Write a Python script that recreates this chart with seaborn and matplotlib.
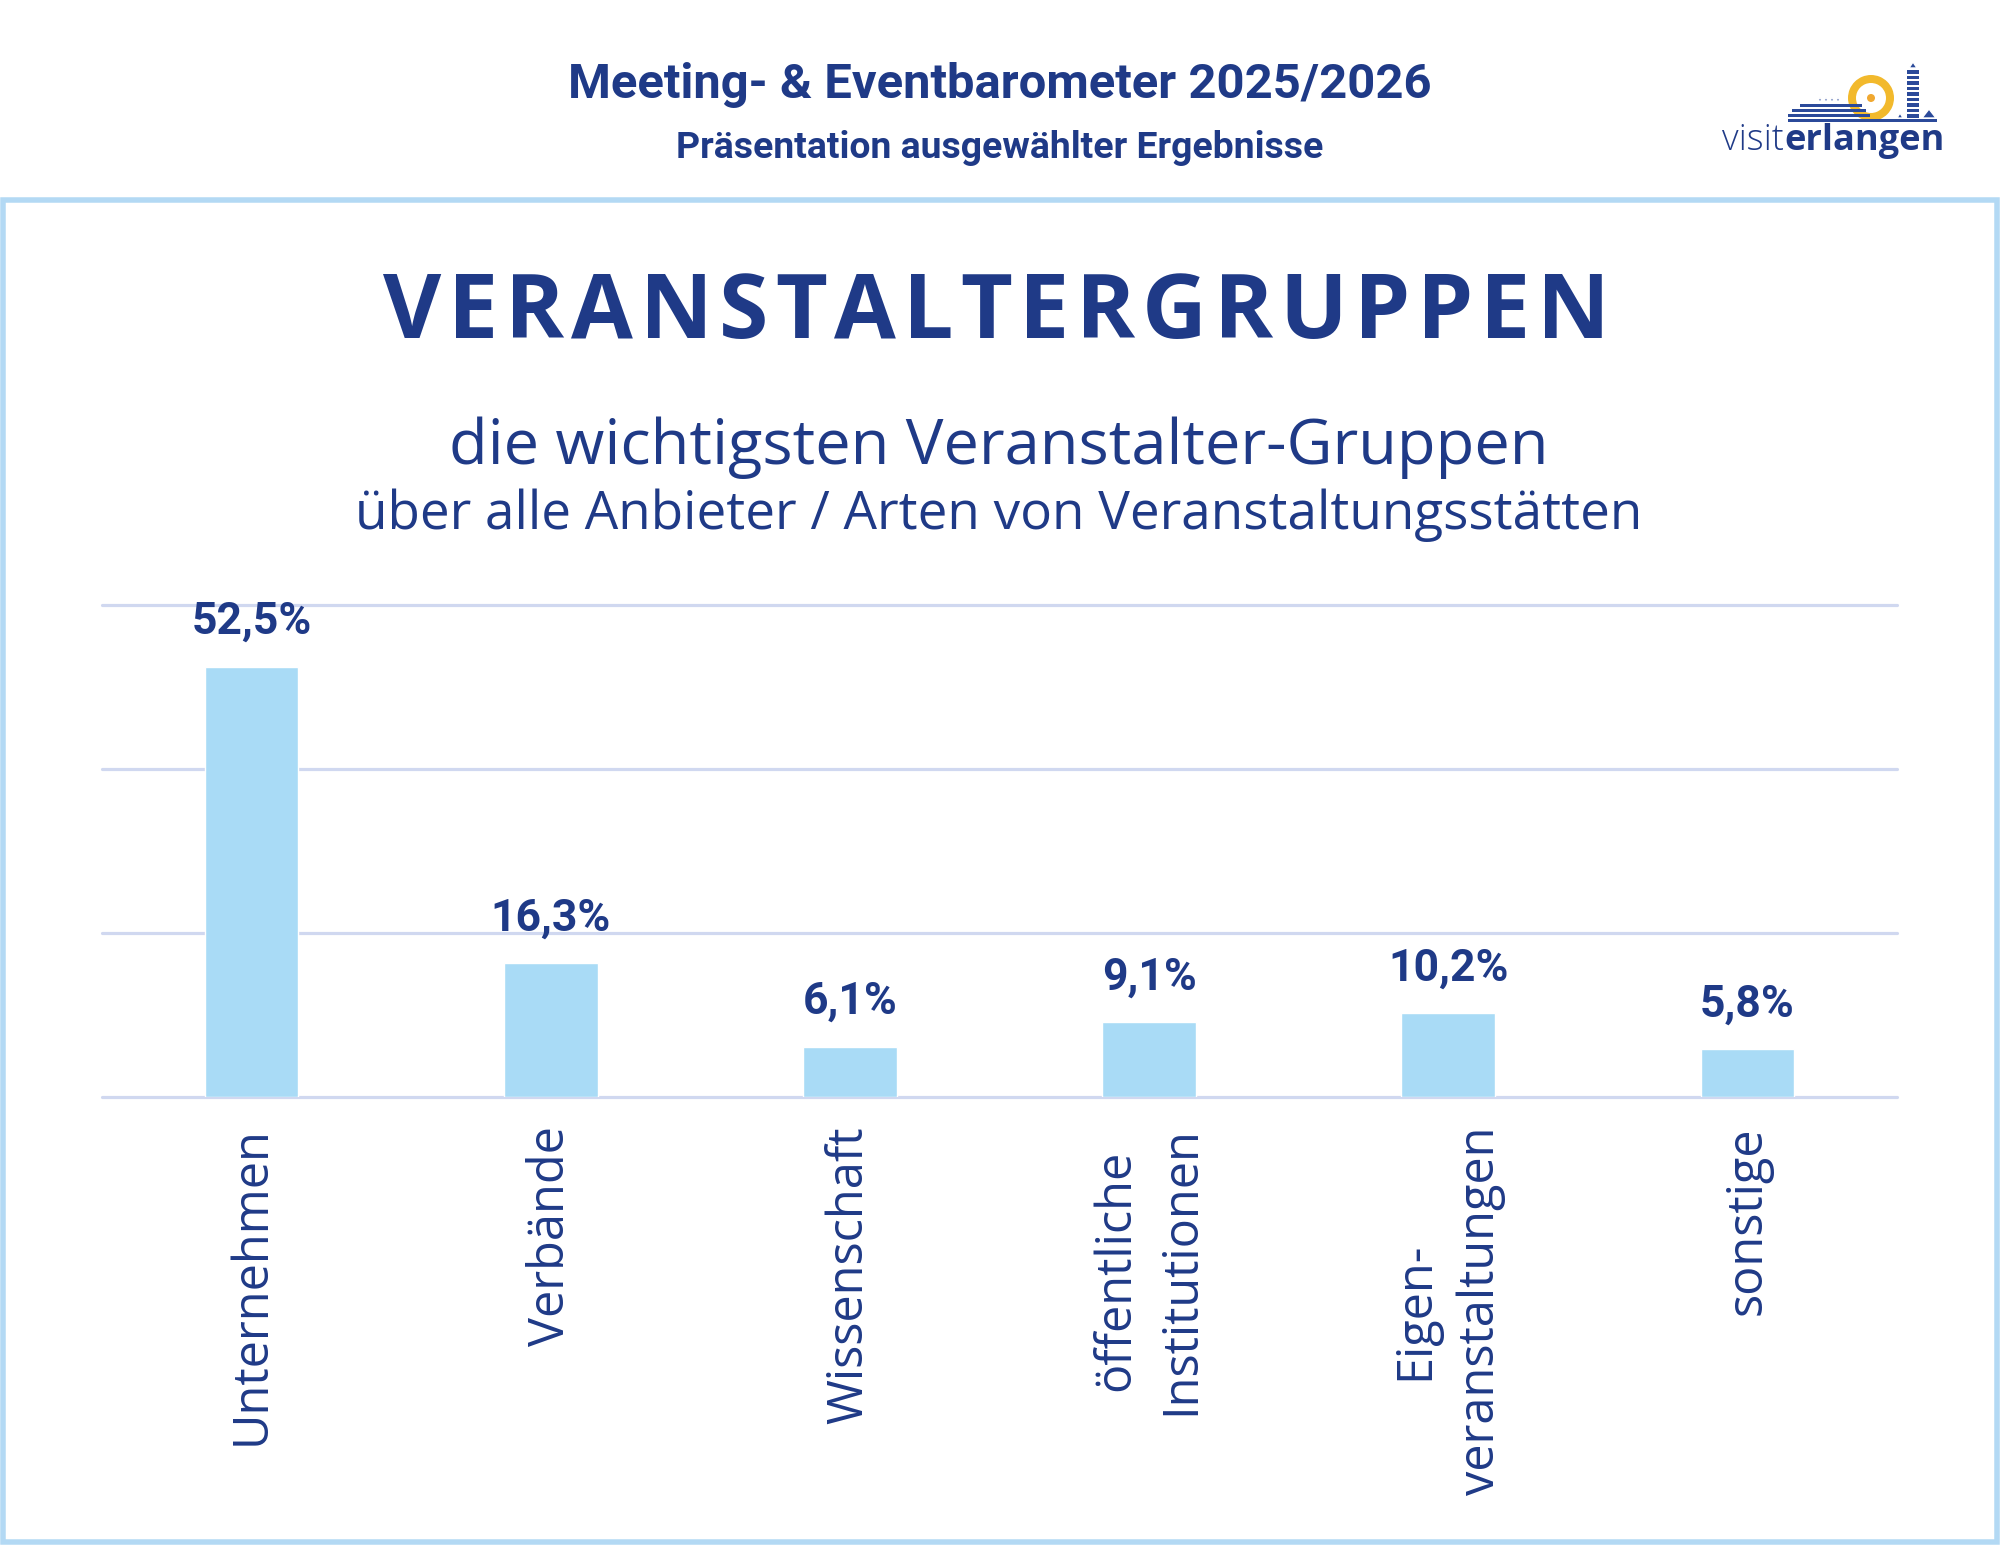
import matplotlib
matplotlib.use("Agg")
import matplotlib.pyplot as plt
import seaborn as sns
import pandas as pd
from matplotlib.patches import Rectangle, Circle, Polygon, Wedge

# ---------------- data ----------------
categories = ["Unternehmen", "Verbände", "Wissenschaft",
              "öffentliche\nInstitutionen", "Eigen-\nveranstaltungen", "sonstige"]
values = [52.5, 16.3, 6.1, 9.1, 10.2, 5.8]
value_labels = ["52,5%", "16,3%", "6,1%", "9,1%", "10,2%", "5,8%"]
y_ticks = [0, 20, 40, 60]

header_title = "Meeting- & Eventbarometer 2025/2026"
header_sub = "Präsentation ausgewählter Ergebnisse"
main_title = "VERANSTALTERGRUPPEN"
sub_line1 = "die wichtigsten Veranstalter-Gruppen"
sub_line2 = "über alle Anbieter / Arten von Veranstaltungsstätten"

# ---------------- style ----------------
W, H, DPI = 2000, 1545, 100
NAVY = "#1f3a87"
BAR = "#a9dbf6"
GRID = "#d0d8f0"
FRAME = "#b3d9f4"

sns.set_theme(style="white")
plt.rcParams["font.family"] = ["Open Sans", "DejaVu Sans"]

fig = plt.figure(figsize=(W / DPI, H / DPI), dpi=DPI)
fig.patch.set_facecolor("white")
renderer = fig.canvas.get_renderer()


def fy(y_top):
    """pixel from top -> figure fraction"""
    return (H - y_top) / H


def fit_text(xc, y_base, s, target_w, **kw):
    t = fig.text(xc / W, fy(y_base), s, fontsize=20, ha="center", va="baseline", **kw)
    w = t.get_window_extent(renderer).width
    t.set_fontsize(20 * target_w / w)
    return t


# frame
lw_px = 5.5
fig.patches.append(Rectangle((lw_px / 2 / W, lw_px / 2 / H),
                             (W - lw_px) / W, (H - 197 - lw_px) / H,
                             transform=fig.transFigure, fill=False,
                             edgecolor=FRAME, linewidth=lw_px * 72 / DPI, zorder=0))

# header texts
fit_text(1000, 98, header_title, 862, color=NAVY, fontweight="bold", family=["Roboto", "DejaVu Sans"])
fit_text(1000, 158, header_sub, 645, color=NAVY, fontweight="bold", family=["Roboto", "DejaVu Sans"])

# main title with letter spacing
title_fs = 64.5
letters = []
widths = []
for ch in main_title:
    t = fig.text(0, fy(338), ch, fontsize=title_fs, fontweight="bold", color=NAVY,
                 ha="left", va="baseline", family=["Open Sans", "DejaVu Sans"])
    letters.append(t)
    widths.append(t.get_window_extent(renderer).width)
x0, x1 = 383, 1610
track = (x1 - x0 - sum(widths)) / (len(letters) - 1)
x = x0
for t, w in zip(letters, widths):
    t.set_x(x / W)
    x += w + track

# sub lines
fit_text(999, 464, sub_line1, 1098, color=NAVY)
fit_text(999, 529, sub_line2, 1285, color=NAVY)

# ---------------- chart ----------------
ax_left, ax_right, ax_top, ax_bottom = 102, 1897, 605, 1097
ax = fig.add_axes([ax_left / W, fy(ax_bottom), (ax_right - ax_left) / W, (ax_bottom - ax_top) / H])
df = pd.DataFrame({"Gruppe": categories, "Anteil": values})
sns.barplot(data=df, x="Gruppe", y="Anteil", color=BAR, saturation=1, width=0.313, ax=ax, zorder=2)
ax.set_xlim(-0.5, len(categories) - 0.5)
ax.set_ylim(0, 60)
ax.set_yticks(y_ticks)
ax.yaxis.grid(True, color=GRID, linewidth=3.2 * 72 / DPI, zorder=0)
ax.xaxis.grid(False)
ax.set_axisbelow(True)
for gl in ax.get_ygridlines():
    gl.set_clip_on(False)
for sp in ax.spines.values():
    sp.set_visible(False)
ax.set_xlabel("")
ax.set_ylabel("")
ax.tick_params(left=False, labelleft=False, bottom=False, pad=21 * 72 / DPI)
ax.set_xticks(range(len(categories)))
ax.set_xticklabels(categories, rotation=90, ha="center", va="top", multialignment="center",
                   fontsize=35, color=NAVY, linespacing=1.42)
ax.set_facecolor("none")

for i, (v, lab) in enumerate(zip(values, value_labels)):
    ax.annotate(lab, (i, v), xytext=(0, 33 * 72 / DPI), textcoords="offset points",
                ha="center", va="baseline", fontsize=32, fontweight="bold", color=NAVY,
                family=["Roboto", "DejaVu Sans"])

# ---------------- logo ----------------
lg = fig.add_axes([0, 0, 1, 1], zorder=5)
lg.set_xlim(0, W)
lg.set_ylim(H, 0)
lg.axis("off")
lg.patch.set_alpha(0)

t1 = lg.text(1722, 150, "visit", fontsize=26, fontweight="light", color=NAVY, ha="left", va="baseline")
w1 = t1.get_window_extent(renderer).width
lg.text(1722 + w1 + 1, 150, "erlangen", fontsize=26, fontweight="bold", color=NAVY, ha="left", va="baseline")

# sun ring
lg.add_patch(Wedge((1871, 98), 23, 0, 360, width=8, facecolor="#f2b92c", edgecolor="none"))
lg.add_patch(Circle((1871, 98), 4, facecolor="#f0a830", edgecolor="none"))
# hill stripes
for (ya, xa, xb) in [(104, 1800, 1862), (109, 1792, 1866), (114, 1788, 1870), (119, 1788, 1937)]:
    lg.add_patch(Rectangle((xa, ya), xb - xa, 3, facecolor="#2b4a9a", edgecolor="none"))
for k in range(4):
    xa = 1818 + k * 6
    lg.add_patch(Polygon([(xa, 101), (xa + 4, 101), (xa + 2, 97)], closed=True, facecolor="#2b4a9a"))
# tower
for k in range(9):
    lg.add_patch(Rectangle((1907, 70 + k * 5.5), 12, 3.5, facecolor="#2b4a9a", edgecolor="none"))
lg.add_patch(Polygon([(1909, 68), (1917, 68), (1913, 62)], closed=True, facecolor="#2b4a9a"))
lg.add_patch(Polygon([(1897, 118), (1903, 118), (1900, 113)], closed=True, facecolor="#2b4a9a"))
lg.add_patch(Polygon([(1922, 118), (1936, 118), (1929, 109)], closed=True, facecolor="#2b4a9a"))

fig.savefig("out.png", dpi=DPI, facecolor="white")
